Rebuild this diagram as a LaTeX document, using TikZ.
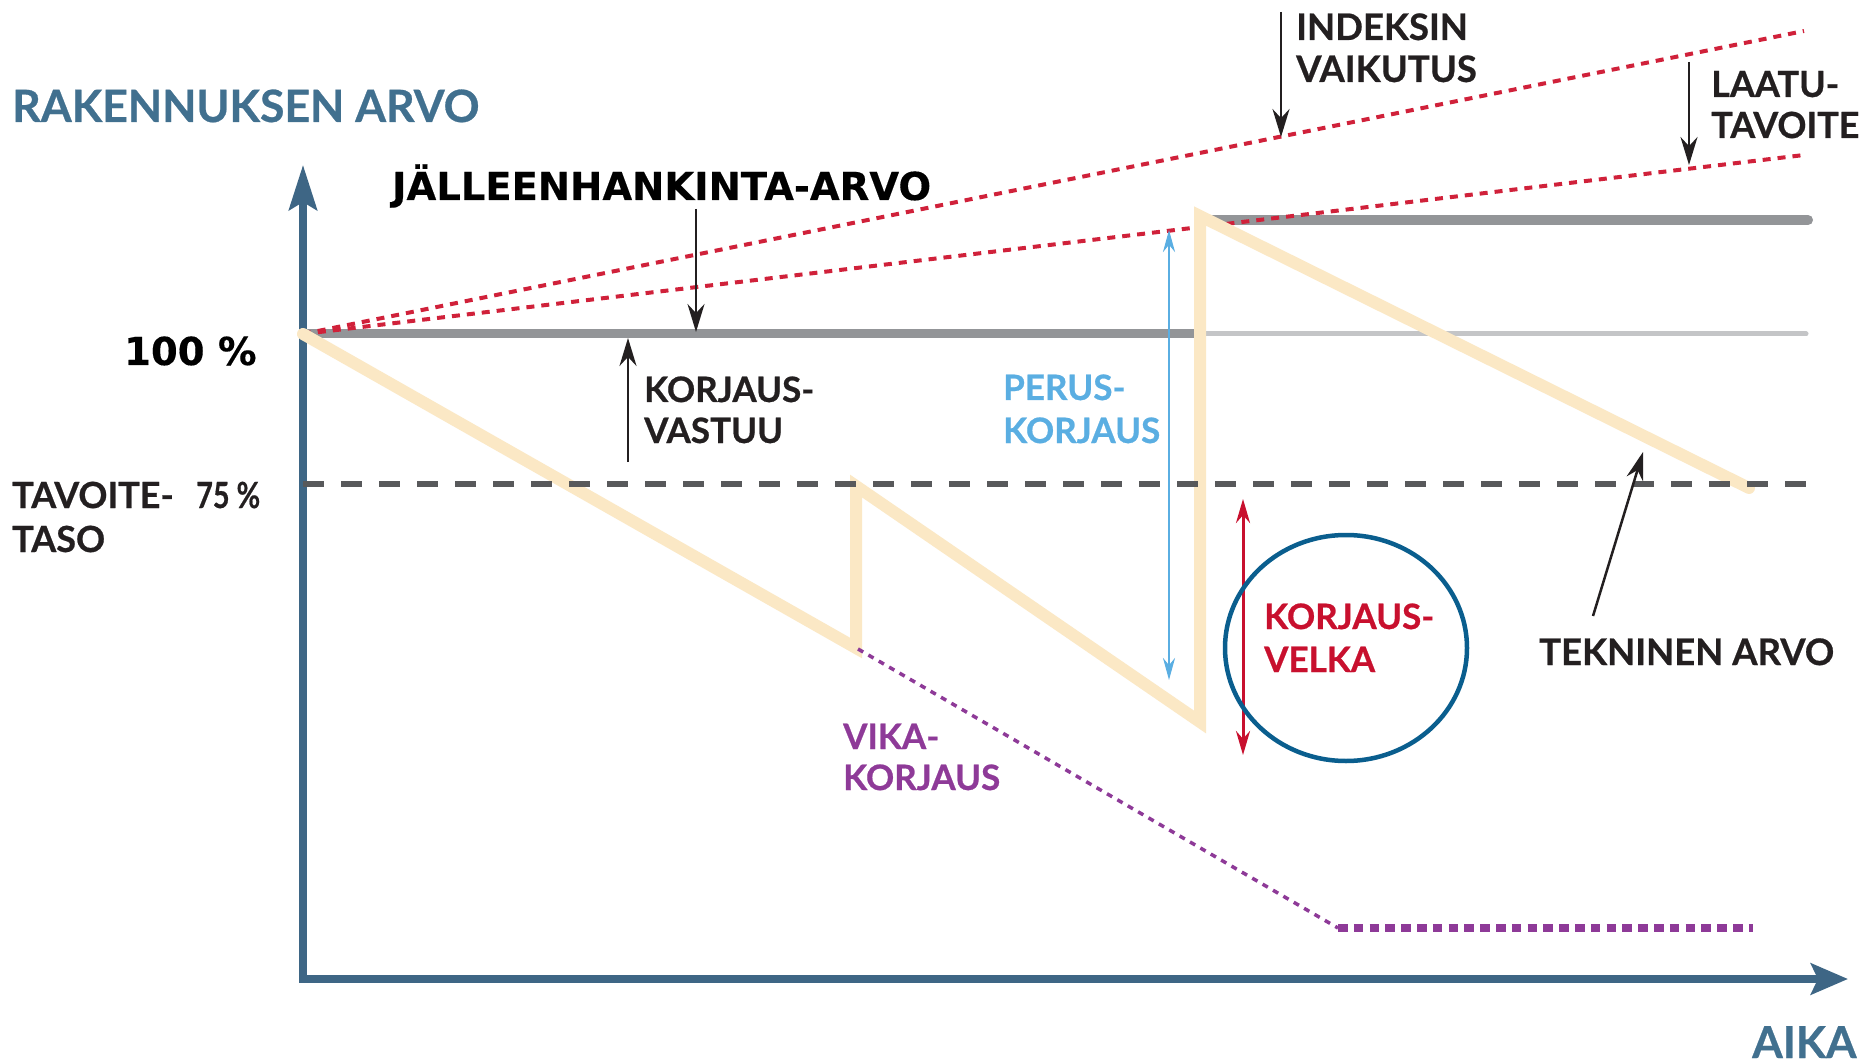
\documentclass[tikz,border=0pt]{standalone}
\usepackage{fontspec}
\setmainfont{Lato}[BoldFeatures={FakeBold=0.6}]
\newfontfamily\dvs{DejaVu Sans}[BoldFeatures={FakeBold=0.3}]
\usetikzlibrary{arrows.meta,shapes.geometric}
\definecolor{axisblue}{HTML}{3E6685}
\definecolor{axistext}{HTML}{41708F}
\definecolor{inkblack}{HTML}{231F20}
\definecolor{graydark}{HTML}{939598}
\definecolor{graylight}{HTML}{C4C5C7}
\definecolor{dashgray}{HTML}{58595B}
\definecolor{dotred}{HTML}{D0213A}
\definecolor{tan}{HTML}{FBE8C5}
\definecolor{vikapurple}{HTML}{8E3A98}
\definecolor{perusblue}{HTML}{5AAEE2}
\definecolor{velkared}{HTML}{C8102E}
\definecolor{ringblue}{HTML}{0A5E8E}
\begin{document}
\begin{tikzpicture}[x=1pt,y=-1pt,
  txt/.style={inner sep=0pt, anchor=base west, text=inkblack, font=\bfseries\fontsize{35}{40}\selectfont},
  axislbl/.style={txt, text=axistext, font=\bfseries\fontsize{44.5}{48}\selectfont},
  heavy/.style={txt, text=black, font=\dvs\bfseries\fontsize{38.5}{42}\selectfont},
  axisline/.style={draw=axisblue, line width=7.5pt, line join=miter},
  pointer/.style={draw=inkblack, line width=2.5pt, -{Stealth[length=28pt,width=17pt]}},
  redline/.style={draw=dotred, line width=4pt, dash pattern=on 8pt off 7pt},
  tanline/.style={draw=tan, line width=12pt, line cap=round, line join=miter},
]
\useasboundingbox[fill=white] (0,0) rectangle (1869,1064);

% coordinates
\coordinate (O) at (303,979);
\coordinate (Ytop) at (303,165);
\coordinate (Xend) at (1848,979);
\coordinate (P100) at (303,334);
\coordinate (G1end) at (1196,334);
\coordinate (G2start) at (1205,334);
\coordinate (G2end) at (1806,334);
\coordinate (U1) at (1200,220);
\coordinate (U2) at (1808,220);
\coordinate (D1) at (303,484);
\coordinate (D2) at (1806,484);
\coordinate (R1end) at (1804,31);
\coordinate (R2end) at (1804,155);
\coordinate (T1) at (856,648);
\coordinate (T2) at (856,486);
\coordinate (T3) at (1200,722);
\coordinate (T4) at (1200,216);
\coordinate (T5) at (1749,488);
\coordinate (V1) at (858,649);
\coordinate (V2) at (1338,928);
\coordinate (V3) at (1753,928);

% axes
\draw[axisline, {Stealth[length=45pt,width=28pt,inset=8pt]}-{Stealth[length=37pt,width=31pt,inset=7pt]}] (Ytop) -- (O) -- (Xend);

% value lines
\draw[draw=graydark, line width=9pt] (P100) -- (G1end);
\draw[draw=graylight, line width=5pt, line cap=round] (G2start) -- (G2end);
\draw[draw=graydark, line width=10pt, line cap=round] (U1) -- (U2);

% index / quality lines
\draw[redline] (P100) -- (R1end);
\draw[redline] (P100) -- (R2end);

% technical value sawtooth
\draw[tanline] (P100) -- (T1) -- (T2) -- (T3) -- (T4) -- (T5);

% target level
\draw[draw=dashgray, line width=6pt, dash pattern=on 21pt off 17pt] (D1) -- (D2);

% fault repair
\draw[draw=vikapurple, line width=3.5pt, dash pattern=on 6pt off 6pt] (V1) -- (V2);
\draw[draw=vikapurple, line width=8pt, dash pattern=on 9.5pt off 6.3pt] (V2) -- (V3);

% arrows
\coordinate (Aj1) at (696,209); \coordinate (Aj2) at (696,332);
\coordinate (Ak1) at (628,462); \coordinate (Ak2) at (628,338);
\coordinate (Ai1) at (1281,12); \coordinate (Ai2) at (1281,137);
\coordinate (Al1) at (1689,62); \coordinate (Al2) at (1689,165);
\coordinate (At1) at (1593,616); \coordinate (At2) at (1643,452);
\coordinate (Ab1) at (1169,680); \coordinate (Ab2) at (1169,230);
\coordinate (Ar1) at (1243,499); \coordinate (Ar2) at (1243,755);
\draw[pointer] (Aj1) -- (Aj2);
\draw[pointer] (Ak1) -- (Ak2);
\draw[pointer] (Ai1) -- (Ai2);
\draw[pointer] (Al1) -- (Al2);
\draw[pointer] (At1) -- (At2);
\draw[draw=perusblue, line width=2.5pt, {Stealth[length=22pt,width=12pt]}-{Stealth[length=22pt,width=12pt]}] (Ab1) -- (Ab2);
\draw[draw=velkared, line width=3pt, {Stealth[length=24pt,width=14pt]}-{Stealth[length=24pt,width=14pt]}] (Ar1) -- (Ar2);

% ring
\node[draw=ringblue, line width=4.5pt, ellipse, minimum width=242pt, minimum height=226pt, inner sep=0pt] (ring) at (1346,648) {};

% texts
\node[axislbl] (ylab) at (12,122) {RAKENNUKSEN ARVO};
\node[axislbl, font=\bfseries\fontsize{44}{48}\selectfont] (xlab) at (1752,1058) {AIKA};
\node[heavy] (jlab) at (392,200) {JÄLLEENHANKINTA-ARVO};
\node[heavy] (p100) at (124,365) {100 \%};
\node[txt, font=\bfseries\fontsize{36}{40}\selectfont] (tav1) at (12,508) {TAVOITE-};
\node[txt, font=\bfseries\fontsize{36}{40}\selectfont] (p75) at (196,508) {\scalebox{0.8}[1]{75 \%}};
\node[txt, font=\bfseries\fontsize{36}{40}\selectfont] (tav2) at (12,552) {TASO};
\node[txt] (kv1) at (644,402) {KORJAUS-};
\node[txt] (kv2) at (644,443) {VASTUU};
\node[txt, text=perusblue] (pk1) at (1003,400) {PERUS-};
\node[txt, text=perusblue] (pk2) at (1003,443) {KORJAUS};
\node[txt, font=\bfseries\fontsize{36.5}{40}\selectfont] (iv1) at (1296,40) {INDEKSIN};
\node[txt, font=\bfseries\fontsize{36.5}{40}\selectfont] (iv2) at (1296,82) {VAIKUTUS};
\node[txt, font=\bfseries\fontsize{36}{40}\selectfont] (lt1) at (1711,97) {LAATU-};
\node[txt, font=\bfseries\fontsize{36}{40}\selectfont] (lt2) at (1711,138) {TAVOITE};
\node[txt, text=velkared] (kvr1) at (1264,629) {KORJAUS-};
\node[txt, text=velkared] (kvr2) at (1264,672) {VELKA};
\node[txt, text=vikapurple] (vk1) at (843,749) {VIKA-};
\node[txt, text=vikapurple] (vk2) at (843,790) {KORJAUS};
\node[txt, font=\bfseries\fontsize{36.5}{40}\selectfont] (tek) at (1539,665) {TEKNINEN ARVO};
\end{tikzpicture}
\end{document}
